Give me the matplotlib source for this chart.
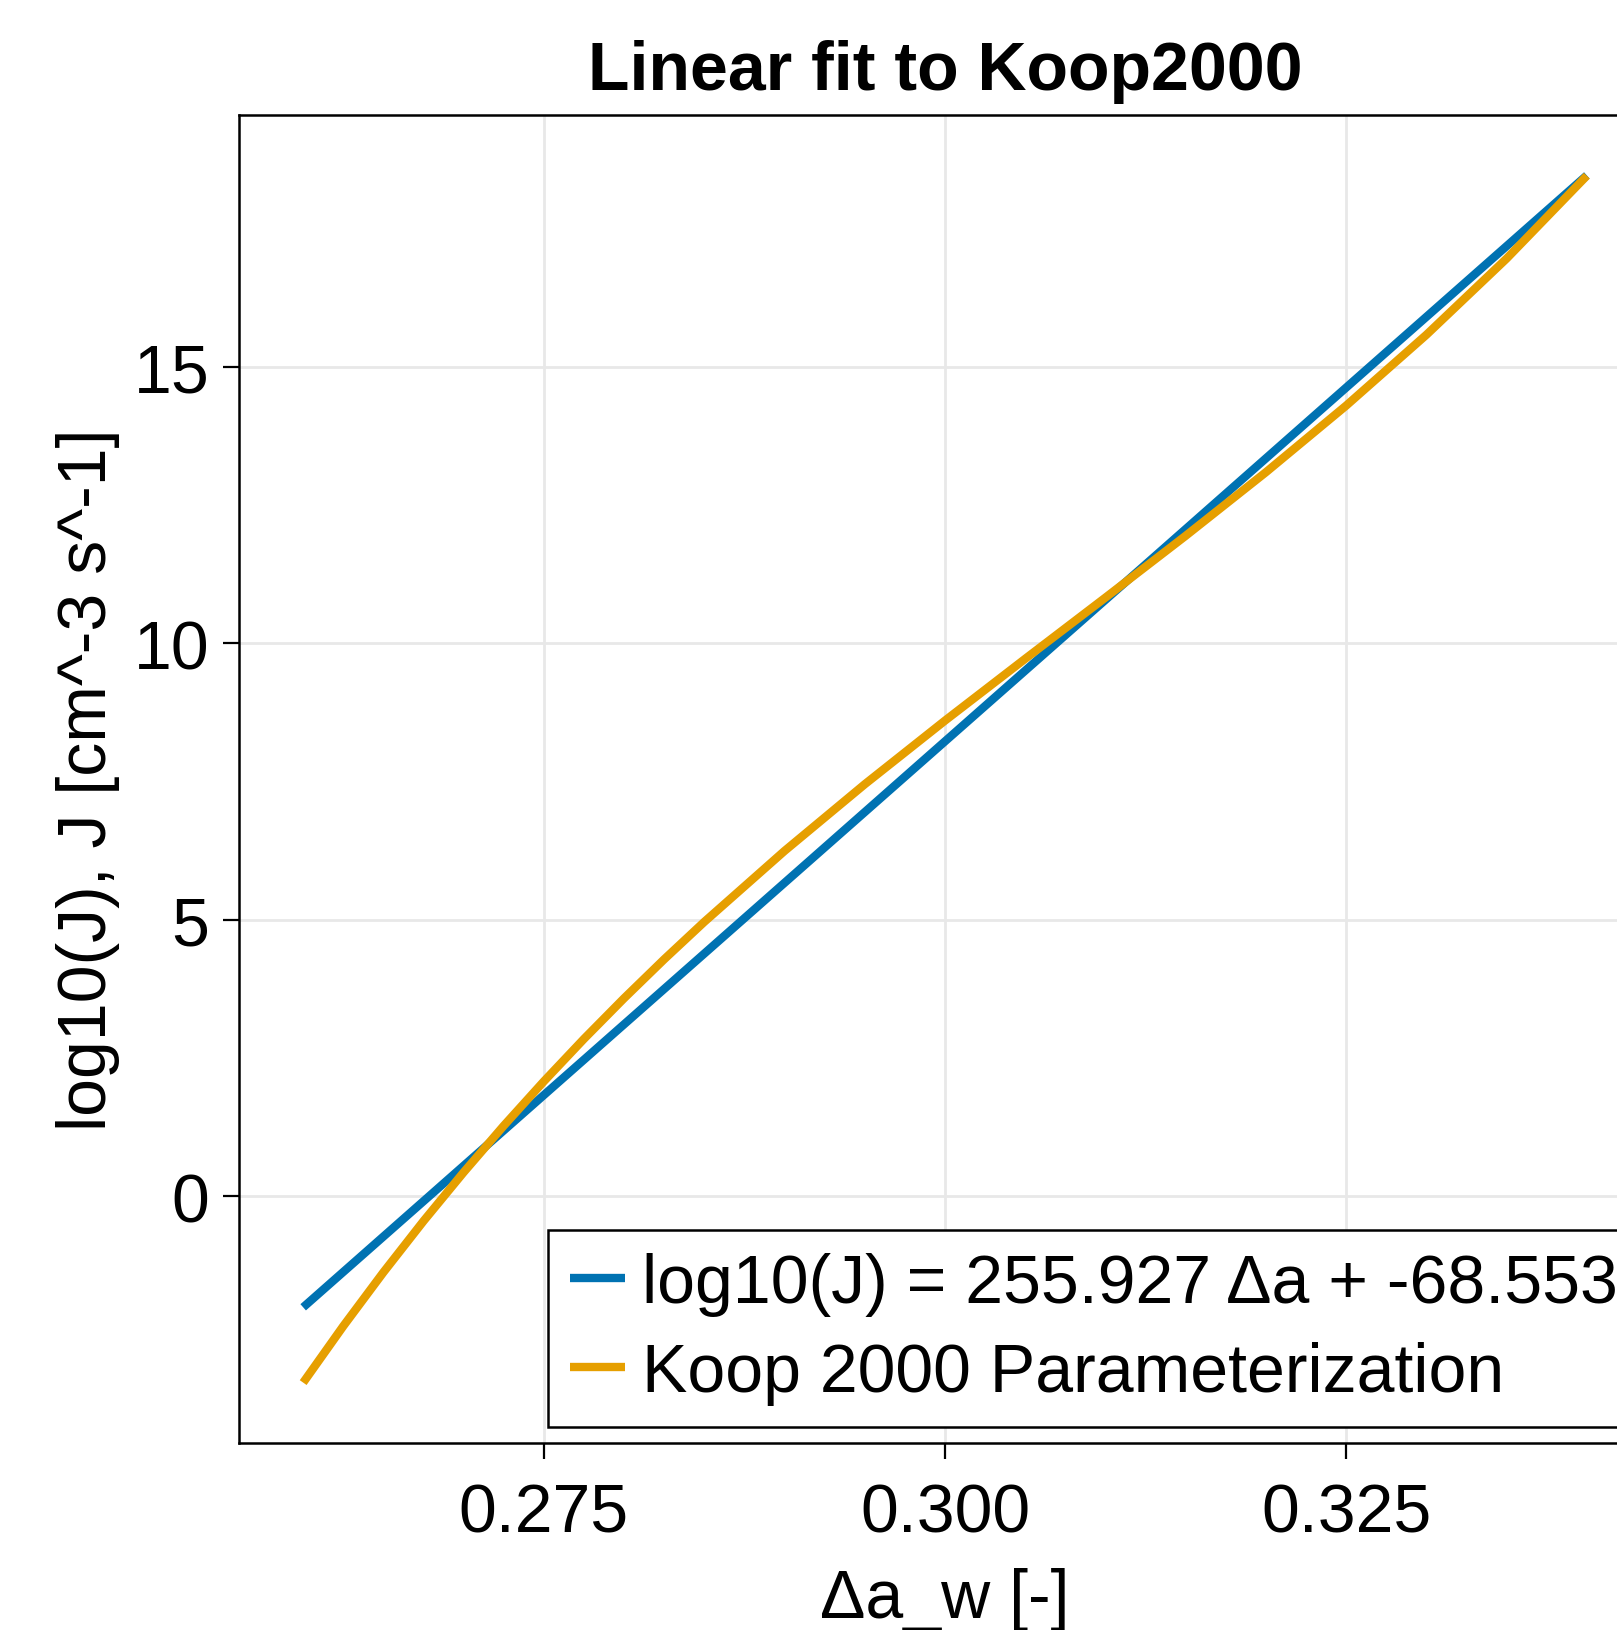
import matplotlib
matplotlib.use("Agg")
import matplotlib.pyplot as plt

# ---- data ----
fit_x = [0.26, 0.34]
fit_y = [-2.012, 18.462]

koop_x = [0.2600, 0.2625, 0.2650, 0.2675, 0.2700, 0.2725, 0.2750, 0.2775,
          0.2800, 0.2825, 0.2850, 0.2900, 0.2950, 0.3000, 0.3050, 0.3100,
          0.3150, 0.3200, 0.3250, 0.3300, 0.3350, 0.3400]
koop_y = [-3.374, -2.352, -1.379, -0.452, 0.430, 1.272, 2.075, 2.843,
          3.578, 4.283, 4.960, 6.243, 7.449, 8.600, 9.718, 10.825,
          11.943, 13.093, 14.297, 15.578, 16.957, 18.456]

xticks = [0.275, 0.300, 0.325]
xtick_labels = ["0.275", "0.300", "0.325"]
yticks = [0, 5, 10, 15]
ytick_labels = ["0", "5", "10", "15"]

title = "Linear fit to Koop2000"
xlabel = "Δa_w [-]"
ylabel = "log10(J), J [cm^-3 s^-1]"
labels = ["log10(J) = 255.927 Δa + -68.553", "Koop 2000 Parameterization"]
colors = ["#0072B2", "#E69F00"]

plt.rcParams['font.family'] = ['Liberation Sans', 'DejaVu Sans']
FS = 49

W, H = 1617, 1631
fig = plt.figure(figsize=(W / 100, H / 100), dpi=100)
fig.patch.set_facecolor("white")

left, right, top, bottom = 239, 1651, 116, 1444
ax = fig.add_axes([left / W, (H - bottom) / H, (right - left) / W, (bottom - top) / H])

ax.plot(fit_x, fit_y, color=colors[0], lw=6, label=labels[0], solid_capstyle='butt', zorder=3)
ax.plot(koop_x, koop_y, color=colors[1], lw=6, label=labels[1], solid_capstyle='butt',
        solid_joinstyle='round', zorder=3)

ax.set_xlim(0.256, 0.344)
ax.set_ylim(-4.4665, 19.554)

ax.set_xticks(xticks)
ax.set_xticklabels(xtick_labels)
ax.set_yticks(yticks)
ax.set_yticklabels(ytick_labels)

ax.grid(True, color="#e8e8e8", lw=2.0, zorder=0)
ax.set_axisbelow(True)

for s in ax.spines.values():
    s.set_linewidth(1.8)
    s.set_color("black")

ax.tick_params(axis='both', direction='out', length=11.5, width=1.6, labelsize=FS, colors='black')
ax.tick_params(axis='x', pad=16)
ax.tick_params(axis='y', pad=10)

ax.set_title(title, fontsize=49, fontweight='bold', pad=19)
ax.set_xlabel(xlabel, fontsize=FS, labelpad=16)
ax.set_ylabel(ylabel, fontsize=FS, labelpad=10)

leg = ax.legend(loc='lower left', bbox_to_anchor=(548 / W, (H - 1428) / H),
                bbox_transform=fig.transFigure, borderaxespad=0,
                fontsize=FS, frameon=True, fancybox=False,
                handlelength=0.8, handletextpad=0.25, labelspacing=0.36,
                borderpad=0.33)
leg.get_frame().set_edgecolor('black')
leg.get_frame().set_linewidth(1.8)
leg.get_frame().set_alpha(1)

fig.savefig("out.png", dpi=100)
